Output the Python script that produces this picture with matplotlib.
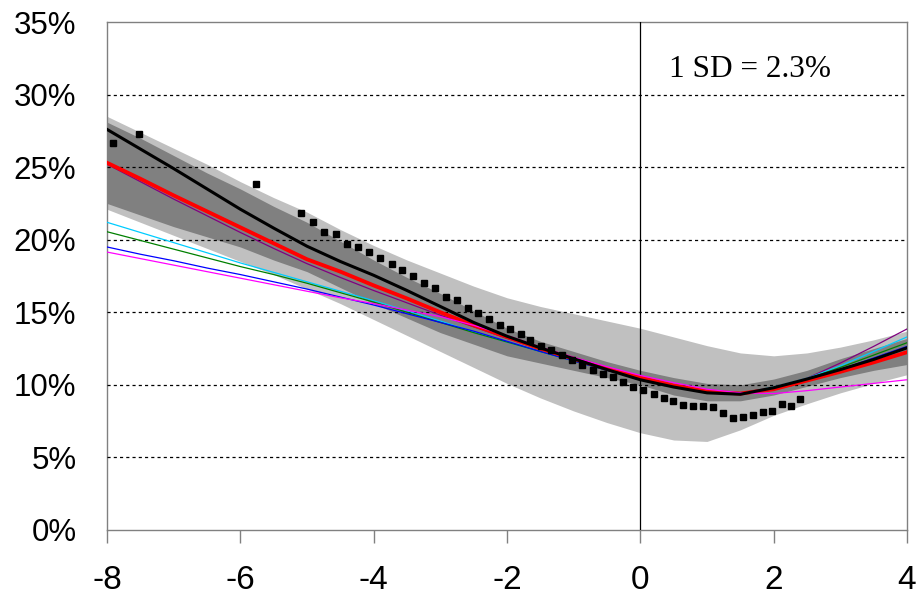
import matplotlib.pyplot as plt
import numpy as np

plt.rcParams["axes.unicode_minus"] = False

# x grid shared by the fitted lines and the bands
grid_x = [-8, -7.5, -7, -6.5, -6, -5.5, -5, -4.5, -4, -3.5, -3, -2.5, -2,
          -1.5, -1, -0.5, 0, 0.5, 1, 1.5, 2, 2.5, 3, 3.5, 4]

# confidence bands (%)
light_hi = [28.5, 27.4, 26.3, 25.2, 24.0, 22.9, 21.9, 20.7, 19.6, 18.6, 17.7, 16.8, 16.0,
            15.4, 14.9, 14.4, 13.9, 13.3, 12.7, 12.2, 12.0, 12.2, 12.6, 13.1, 13.7]
light_lo = [22.1, 21.2, 20.3, 19.4, 18.5, 17.6, 16.6, 15.6, 14.5, 13.4, 12.3, 11.2, 10.1,
            9.1, 8.2, 7.4, 6.7, 6.2, 6.1, 6.9, 7.9, 8.7, 9.45, 10.1, 10.7]
dark_hi = [28.1, 27.0, 25.8, 24.6, 23.5, 22.3, 21.2, 19.9, 18.6, 17.4, 16.3, 15.1, 13.9,
           13.0, 12.3, 11.6, 11.0, 10.5, 10.1, 10.0, 10.4, 11.0, 11.8, 12.5, 13.2]
dark_lo = [22.5, 21.7, 20.9, 20.2, 19.5, 18.6, 17.8, 16.7, 15.6, 14.6, 13.6, 12.8, 12.0,
           11.5, 11.0, 10.5, 10.0, 9.3, 8.9, 8.9, 9.3, 9.9, 10.5, 11.0, 11.4]

# fitted lines (%)
black_line = [27.6, 26.25, 24.9, 23.5, 22.1, 20.8, 19.55, 18.5, 17.55, 16.5, 15.4, 14.3, 13.35,
              12.55, 11.8, 11.05, 10.35, 9.85, 9.45, 9.35, 9.8, 10.4, 11.05, 11.75, 12.55]
red_line = [25.3, 24.2, 23.05, 21.95, 20.85, 19.75, 18.65, 17.8, 16.85, 15.95, 15.0, 14.1, 13.3,
            12.5, 11.8, 11.1, 10.5, 9.95, 9.55, 9.4, 9.7, 10.3, 10.9, 11.55, 12.25]
purple_line = [25.2, 24.0, 22.8, 21.65, 20.5, 19.4, 18.35, 17.4, 16.5, 15.65, 14.8, 14.0, 13.2,
               12.45, 11.75, 11.1, 10.5, 9.95, 9.55, 9.45, 9.8, 10.45, 11.5, 12.65, 13.85]
cyan_line = [21.2, 20.5, 19.8, 19.1, 18.4, 17.75, 17.1, 16.45, 15.8, 15.1, 14.4, 13.65, 12.95,
             12.3, 11.65, 11.0, 10.4, 9.9, 9.5, 9.4, 9.85, 10.45, 11.3, 12.3, 13.3]
green_line = [20.55, 19.95, 19.35, 18.75, 18.15, 17.6, 17.0, 16.35, 15.7, 15.0, 14.3, 13.6, 12.95,
              12.3, 11.65, 11.0, 10.4, 9.9, 9.5, 9.4, 9.8, 10.4, 11.2, 12.05, 12.9]
blue_line = [19.5, 19.0, 18.55, 18.05, 17.6, 17.1, 16.6, 16.05, 15.5, 14.9, 14.3, 13.7, 13.0,
             12.3, 11.65, 11.0, 10.4, 9.9, 9.5, 9.4, 9.75, 10.3, 11.05, 11.85, 12.65]
magenta_line = [19.15, 18.7, 18.25, 17.8, 17.35, 16.9, 16.45, 16.0, 15.6, 15.15, 14.7, 14.1, 13.4,
                12.6, 11.9, 11.25, 10.65, 10.15, 9.7, 9.45, 9.4, 9.6, 9.85, 10.1, 10.35]

# observed points (%)
obs_x = [-7.91, -7.52, -5.77, -5.09, -4.91, -4.75, -4.57, -4.40, -4.24, -4.07, -3.91, -3.73,
         -3.58, -3.41, -3.25, -3.08, -2.92, -2.75, -2.59, -2.44, -2.27, -2.11, -1.96, -1.79,
         -1.66, -1.49, -1.34, -1.18, -1.03, -0.88, -0.71, -0.56, -0.41, -0.26, -0.11, 0.04,
         0.21, 0.36, 0.49, 0.64, 0.79, 0.94, 1.09, 1.24, 1.39, 1.54, 1.69, 1.84, 1.98, 2.13,
         2.26, 2.40]
obs_y = [26.69, 27.31, 23.86, 21.86, 21.24, 20.55, 20.41, 19.72, 19.52, 19.17, 18.76, 18.34,
         17.93, 17.52, 17.03, 16.69, 16.07, 15.86, 15.31, 14.97, 14.55, 14.14, 13.86, 13.52,
         13.10, 12.69, 12.41, 12.07, 11.72, 11.38, 11.03, 10.76, 10.55, 10.21, 9.86, 9.66,
         9.38, 9.10, 8.90, 8.62, 8.55, 8.55, 8.48, 8.07, 7.72, 7.79, 7.93, 8.14, 8.21, 8.69,
         8.55, 9.03]

x_ticks = [-8, -6, -4, -2, 0, 2, 4]
y_ticks = [0, 5, 10, 15, 20, 25, 30, 35]

fig = plt.figure(figsize=(9.18, 6.05), dpi=100)
ax = fig.add_axes([0.1166, 0.124, 0.8714, 0.8396])

ax.fill_between(grid_x, light_lo, light_hi, color="#c0c0c0", lw=0, zorder=1)
ax.fill_between(grid_x, dark_lo, dark_hi, color="#808080", lw=0, zorder=2)

for yv in y_ticks[1:-1]:
    ax.axhline(yv, color="black", lw=0.9, ls=(0, (2.5, 2.5)), zorder=3)
ax.axvline(0, color="black", lw=0.9, zorder=3)

ax.plot(grid_x, purple_line, color="#800080", lw=0.9, zorder=4)
ax.plot(grid_x, cyan_line, color="#00ccff", lw=0.9, zorder=4)
ax.plot(grid_x, green_line, color="#008000", lw=0.9, zorder=4)
ax.plot(grid_x, blue_line, color="#0000ff", lw=0.9, zorder=4)
ax.plot(grid_x, red_line, color="#ff0000", lw=2.8, zorder=5)
ax.plot(grid_x, magenta_line, color="#ff00ff", lw=0.9, zorder=5)
ax.plot(grid_x, black_line, color="black", lw=2.2, zorder=6)
ax.plot(obs_x, obs_y, ls="none", marker="s", ms=5, color="black", zorder=7)

ax.set_xlim(-8, 4)
ax.set_ylim(0, 35)
ax.set_xticks(x_ticks)
ax.set_yticks(y_ticks)
ax.set_yticklabels([f"{v}%" for v in y_ticks])
ax.tick_params(axis="x", direction="out", length=9, width=1, color="#808080",
               pad=16, labelsize=24)
ax.tick_params(axis="y", length=0, pad=22, labelsize=22.5)
for lab in ax.get_xticklabels() + ax.get_yticklabels():
    lab.set_fontfamily("Liberation Sans")
for side in ["left", "right", "top", "bottom"]:
    ax.spines[side].set_color("#808080")
    ax.spines[side].set_linewidth(1)

ax.text(1.645, 31.75, "1 SD = 2.3%", family="Liberation Serif", fontsize=22.5,
        ha="center", va="center", zorder=8)

fig.savefig("out.png", dpi=100)
